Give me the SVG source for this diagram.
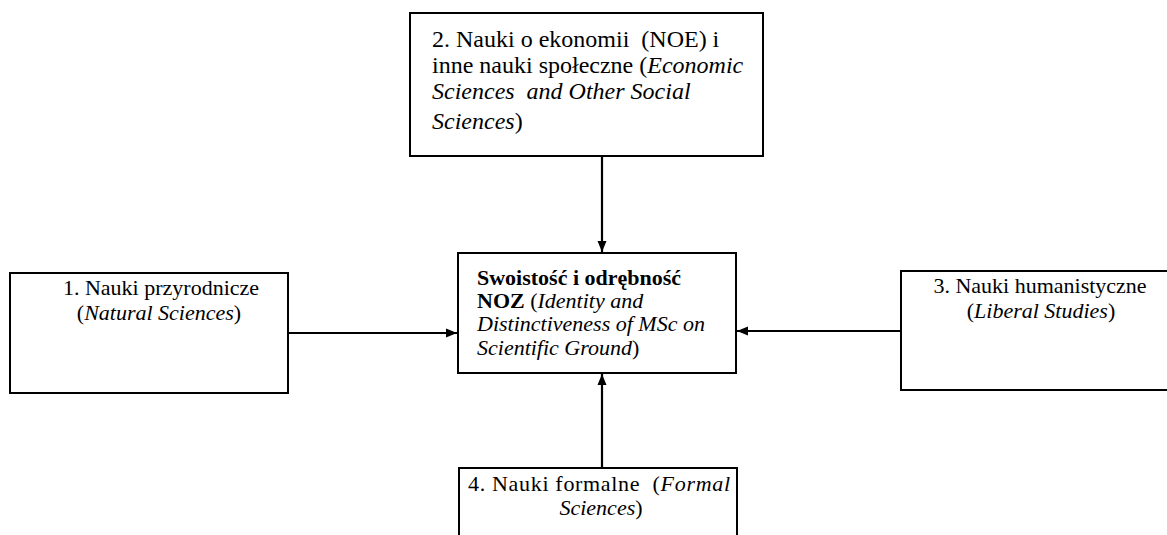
<svg xmlns="http://www.w3.org/2000/svg" width="1167" height="535" viewBox="0 0 1167 535">
<style>
.box{fill:#fff;stroke:#000;stroke-width:2}
text{font-family:'Liberation Serif','Tinos','DejaVu Serif',serif;fill:#000}
.t24{font-size:24px}
.t22{font-size:22px}
.c{text-anchor:middle}
.b{font-weight:bold}
.i{font-style:italic}
.conn{stroke:#000;stroke-width:2.2;fill:none;marker-end:url(#arr)}
</style>
<defs>
<marker id="arr" markerUnits="userSpaceOnUse" markerWidth="12" markerHeight="12" viewBox="0 0 12 12" refX="11" refY="6" orient="auto">
<path d="M0,1.5 L11,6 L0,10.5 Z" fill="#000"/>
</marker>
</defs>
<rect width="1167" height="535" fill="#fff"/>
<g id="connectors">
<line class="conn" x1="602" y1="157" x2="602" y2="252"/>
<line class="conn" x1="289" y1="333" x2="457" y2="333"/>
<line class="conn" x1="901" y1="331" x2="737" y2="331"/>
<line class="conn" x1="602" y1="468" x2="602" y2="374"/>
</g>
<g id="node-top">
<rect class="box" x="410" y="13" width="353" height="143"/>
<text class="t24" x="432" y="47">2. Nauki o ekonomii &#160;(NOE) i</text>
<text class="t24" x="432" y="73">inne nauki społeczne (<tspan class="i">Economic</tspan></text>
<text class="t24 i" x="432" y="99">Sciences &#160;and Other Social</text>
<text class="t24" x="432" y="129"><tspan class="i">Sciences</tspan>)</text>
</g>
<g id="node-center">
<rect class="box" x="458" y="253" width="278" height="120"/>
<text class="t22 b" x="477" y="285">Swoistość i odrębność</text>
<text class="t22" x="477" y="308"><tspan class="b">NOZ</tspan> (<tspan class="i">Identity and</tspan></text>
<text class="t22 i" x="477" y="331">Distinctiveness of MSc on</text>
<text class="t22" x="477" y="355"><tspan class="i">Scientific Ground</tspan>)</text>
</g>
<g id="node-left">
<rect class="box" x="10" y="273" width="278" height="120"/>
<text class="t22 c" x="161" y="295">1. Nauki przyrodnicze</text>
<text class="t22 c" x="159" y="320">(<tspan class="i">Natural Sciences</tspan>)</text>
</g>
<g id="node-right">
<rect class="box" x="901" y="271" width="290" height="119"/>
<text class="t22 c" x="1040" y="293">3. Nauki humanistyczne</text>
<text class="t22 c" x="1041" y="318">(<tspan class="i">Liberal Studies</tspan>)</text>
</g>
<g id="node-bottom">
<rect class="box" x="459" y="468" width="278" height="90"/>
<text class="t22" x="468" y="491" textLength="262" lengthAdjust="spacing">4. Nauki formalne &#160;(<tspan class="i">Formal</tspan></text>
<text class="t22 c" x="601" y="515"><tspan class="i">Sciences</tspan>)</text>
</g>
</svg>
